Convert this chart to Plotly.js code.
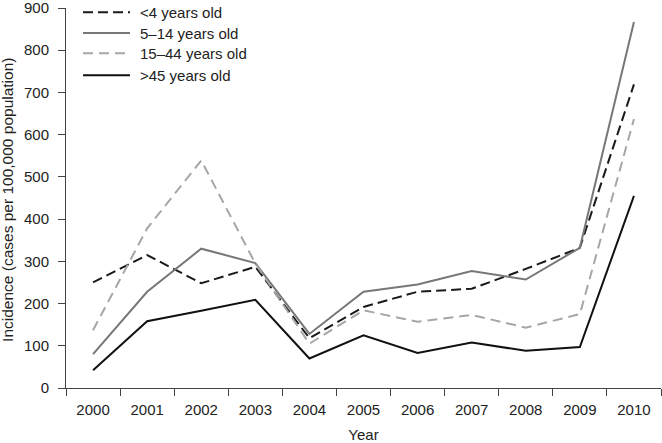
<!DOCTYPE html>
<html>
<head>
<meta charset="utf-8">
<script src="https://cdn.plot.ly/plotly-3.0.1.min.js"></script>
<style>
html, body { margin: 0; padding: 0; background: #fff; }
#chart { width: 662px; height: 443px; }
</style>
</head>
<body>
<div id="chart"></div>
<script>
var years = ["2000", "2001", "2002", "2003", "2004", "2005", "2006", "2007", "2008", "2009", "2010"];
var under4 = [250, 315, 248, 287, 118, 192, 228, 235, 282, 332, 719];
var age5to14 = [80, 228, 330, 296, 128, 228, 245, 277, 257, 332, 867];
var age15to44 = [137, 378, 539, 295, 105, 184, 157, 173, 143, 175, 637];
var over45 = [42, 158, 183, 209, 70, 125, 83, 108, 88, 97, 455];
var seriesNames = ["<4 years old", "5\u201314 years old", "15\u201344 years old", ">45 years old"];
var xTitle = "Year";
var yTitle = "Incidence (cases per 100,000 population)";

var font = "Liberation Sans, Arial, Helvetica, sans-serif";
var seriesData = [under4, age5to14, age15to44, over45];
var lineStyles = [
  {color: "#1a1a1a", width: 2, dash: "10px,5px"},
  {color: "#777777", width: 2},
  {color: "#a6a6a6", width: 2, dash: "10px,6px"},
  {color: "#111111", width: 2}
];

var traces = seriesData.map(function (vals, i) {
  return {x: years, y: vals, name: seriesNames[i], mode: "lines", line: lineStyles[i]};
});

// Legend drawn in the top-left corner of the plot area
var legendRowY = [0.989, 0.934, 0.881, 0.823];
var shapes = [];
var annotations = [];
seriesNames.forEach(function (nm, i) {
  shapes.push({type: "line", xref: "x domain", yref: "y domain",
    x0: 0.0286, x1: 0.1076, y0: legendRowY[i], y1: legendRowY[i], line: lineStyles[i]});
  annotations.push({xref: "x domain", yref: "y domain", x: 0.121, y: legendRowY[i],
    xanchor: "left", yanchor: "middle", showarrow: false, text: nm,
    font: {family: font, size: 15, color: "#222"}});
});
// y-axis title
annotations.push({xref: "x domain", yref: "y domain", x: -0.0975, y: 0.495,
  xanchor: "center", yanchor: "middle", textangle: -90, showarrow: false, text: yTitle,
  font: {family: font, size: 15.5, color: "#222"}});

var layout = {
  width: 662, height: 443,
  margin: {l: 66, r: 1, t: 8, b: 55},
  paper_bgcolor: "#fff", plot_bgcolor: "#fff",
  font: {family: font, size: 15, color: "#222"},
  showlegend: false,
  shapes: shapes,
  annotations: annotations,
  xaxis: {
    type: "category", tickson: "boundaries",
    showline: true, linecolor: "#444", linewidth: 1,
    ticks: "outside", ticklen: 7, tickcolor: "#444",
    ticklabelstandoff: 8, ticklabeloverflow: "allow",
    showgrid: false, zeroline: false,
    tickfont: {family: font, size: 15, color: "#222"},
    title: {text: xTitle, font: {family: font, size: 15, color: "#222"}, standoff: 15},
    range: [-0.5, 10.5]
  },
  yaxis: {
    range: [0, 900], dtick: 100, tick0: 0,
    showline: true, linecolor: "#444", linewidth: 1,
    ticks: "outside", ticklen: 7, tickcolor: "#444",
    ticklabelstandoff: 6, ticklabeloverflow: "allow",
    showgrid: false, zeroline: false,
    tickfont: {family: font, size: 15, color: "#222"}
  }
};

Plotly.newPlot("chart", traces, layout, {displayModeBar: false, staticPlot: true});
</script>
</body>
</html>
